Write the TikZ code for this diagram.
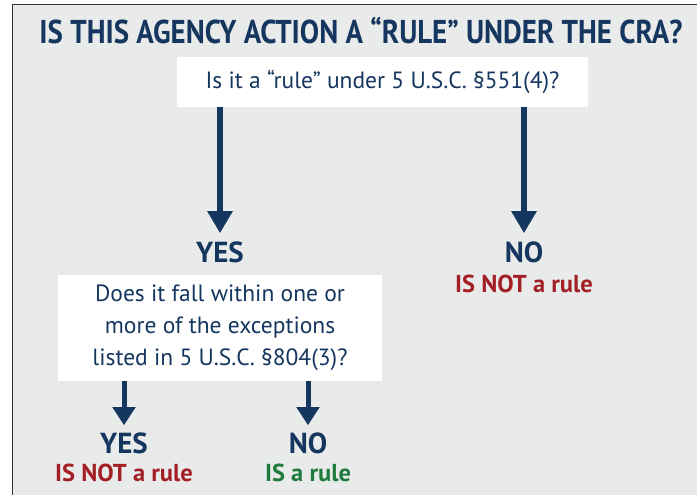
\documentclass[tikz,border=0pt]{standalone}
\usepackage{graphicx}
\usepackage{fontspec}
\setmainfont{PT Sans}
\usetikzlibrary{arrows.meta,positioning}
\definecolor{navy}{HTML}{15365E}
\definecolor{rulered}{HTML}{A31F26}
\definecolor{rulegreen}{HTML}{1E7B3C}
\definecolor{panel}{HTML}{E9EBEB}
\begin{document}
\begin{tikzpicture}[x=1pt,y=-1pt,
  title/.style={text=navy,font=\fontsize{33}{33}\selectfont\bfseries,inner sep=0pt},
  question/.style={fill=white,text=navy,font=\fontsize{23.5}{32}\selectfont,align=center,inner sep=0pt},
  answer/.style={text=navy,font=\fontsize{29}{29}\selectfont\bfseries,inner sep=0pt},
  verdict/.style={font=\fontsize{24.5}{24.5}\selectfont\bfseries,inner sep=0pt},
  bigarrow/.style={navy,line width=6pt,-{Triangle[width=24pt,length=22pt]},shorten >=8pt},
  smallarrow/.style={navy,line width=5pt,-{Triangle[width=22pt,length=18pt]},shorten >=7pt}]
  \useasboundingbox (0,0) rectangle (697,495);
  \clip (0,0) rectangle (697,495);
  \draw[fill=panel,draw=black!80,line width=1pt] (12,5) rectangle (720,520);
  \node[title] (head) at (361,31) {\resizebox{643pt}{\height}{IS THIS AGENCY ACTION A “RULE” UNDER THE CRA?}};
  \node[question,minimum width=411pt,minimum height=50pt] (q1) at (382.5,82) {Is it a “rule” under 5 U.S.C. §551(4)?};
  \node[answer] (yes1) at (220,252) {YES};
  \node[answer] (no1) at (524,252) {NO};
  \node[verdict,text=rulered] (notrule1) at (524,284) {IS NOT a rule};
  \node[question,minimum width=324pt,minimum height=106pt] (q2) at (220,328)
    {Does it fall within one or\\more of the exceptions\\listed in 5 U.S.C. §804(3)?};
  \node[answer] (yes2) at (124,443) {YES};
  \node[answer] (no2) at (308,443) {NO};
  \node[verdict,text=rulered] (notrule2) at (124,473) {IS NOT a rule};
  \node[verdict,text=rulegreen] (isrule) at (308,473) {IS a rule};
  \draw[bigarrow] (q1.south -| yes1.north) -- (yes1.north);
  \draw[bigarrow] (q1.south -| no1.north) -- (no1.north);
  \draw[smallarrow] (q2.south -| yes2.north) -- (yes2.north);
  \draw[smallarrow] (q2.south -| no2.north) -- (no2.north);
\end{tikzpicture}
\end{document}
